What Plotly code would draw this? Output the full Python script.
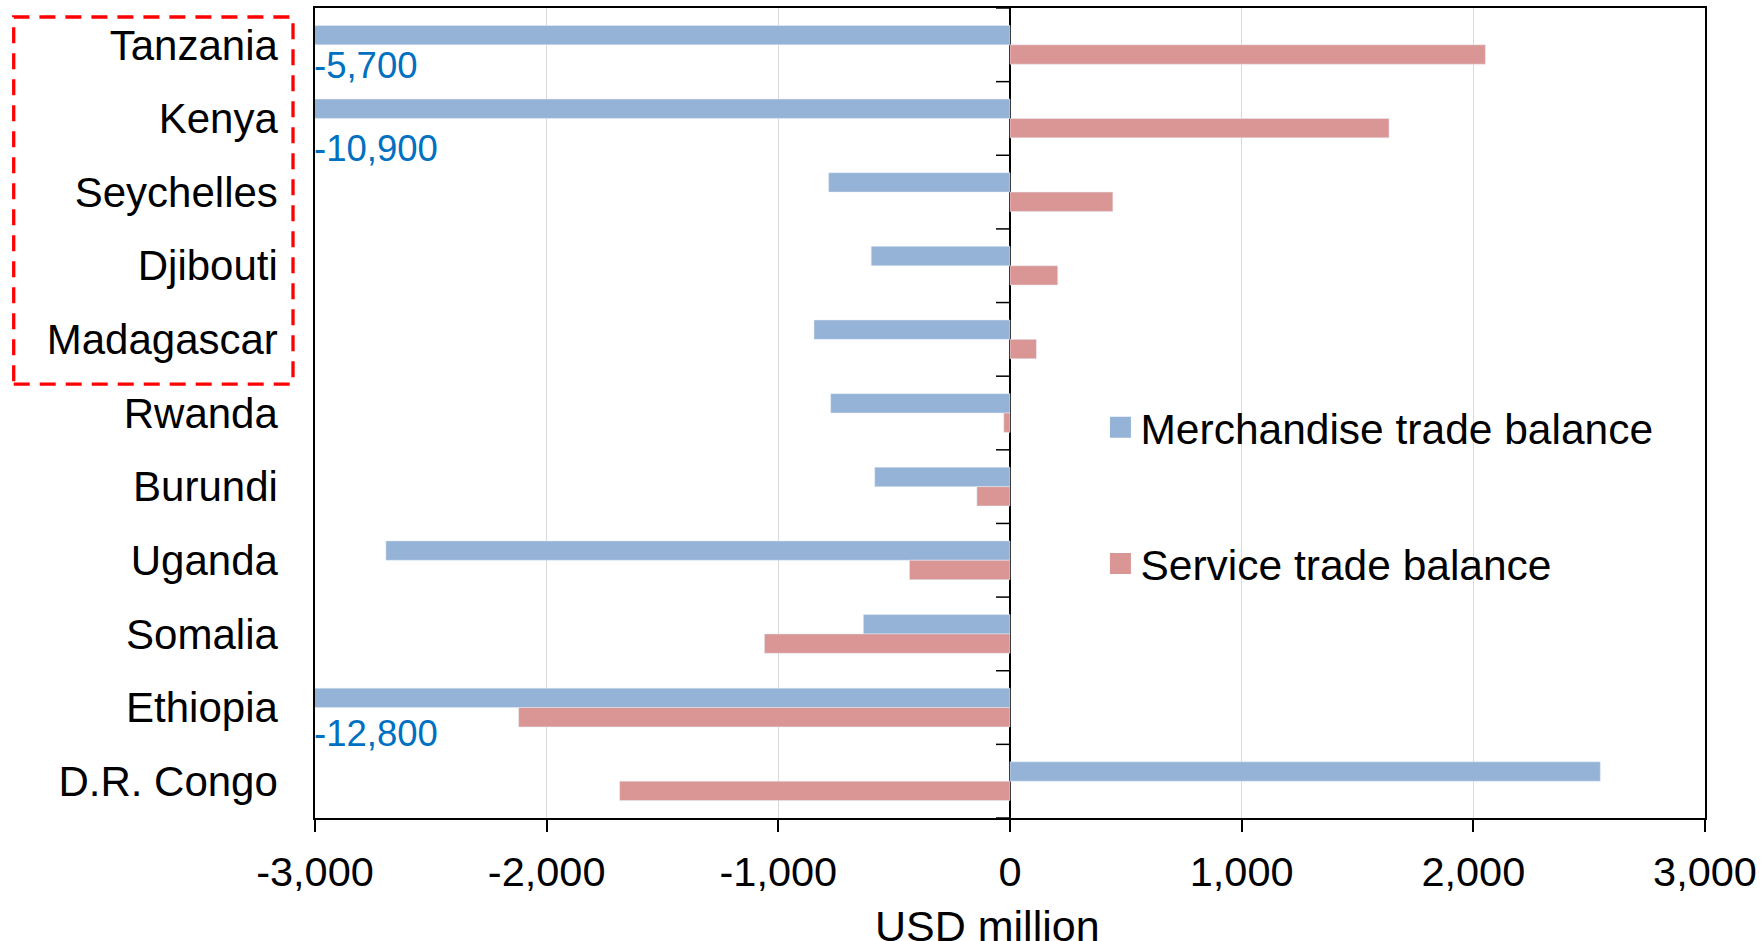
import plotly.graph_objects as go

categories = ["Tanzania", "Kenya", "Seychelles", "Djibouti", "Madagascar", "Rwanda",
              "Burundi", "Uganda", "Somalia", "Ethiopia", "D.R. Congo"]
merchandise = [-5700, -10900, -783, -599, -846, -774, -584, -2694, -633, -12800, 2548]
service = [2052, 1636, 444, 206, 114, -27, -143, -434, -1060, -2121, -1685]
series_names = ["Merchandise trade balance", "Service trade balance"]
tick_vals = [-3000, -2000, -1000, 0, 1000, 2000, 3000]
tick_text = ["-3,000", "-2,000", "-1,000", "0", "1,000", "2,000", "3,000"]
x_title = "USD million"
# clipped merchandise bars labelled with their real value
clipped_labels = {"Tanzania": "-5,700", "Kenya": "-10,900", "Ethiopia": "-12,800"}

BLUE = "#95B3D7"
RED = "#DA9694"
FONT = "Arial, 'Liberation Sans', sans-serif"

fig = go.Figure()
fig.add_trace(go.Bar(y=categories, x=merchandise, orientation="h", name=series_names[0],
                     marker=dict(color=BLUE), showlegend=False))
fig.add_trace(go.Bar(y=categories, x=service, orientation="h", name=series_names[1],
                     marker=dict(color=RED), showlegend=False))
# legend proxies (larger square symbols)
for i, (nm, col) in enumerate(zip(series_names, [BLUE, RED])):
    fig.add_trace(go.Scatter(x=[None], y=[None], mode="markers", name=nm,
                             legendgroup=f"g{i}",
                             marker=dict(symbol="square", size=16, color=col,
                                         line=dict(color=col, width=5))))

shifts = {"Tanzania": -21, "Kenya": -30, "Ethiopia": -26}
for cat, txt in clipped_labels.items():
    fig.add_annotation(x=tick_vals[0], y=cat, xref="x", yref="y", text=txt,
                       showarrow=False, xanchor="left", yanchor="middle",
                       xshift=-3, yshift=shifts[cat],
                       font=dict(family=FONT, size=36.5, color="#0070C0"))

fig.add_annotation(x=(988 - 315) / 1391, y=-0.133, xref="paper", yref="paper",
                   text=x_title, showarrow=False, xanchor="center", yanchor="middle",
                   font=dict(family=FONT, size=43, color="black"))

shapes = []
for i in range(len(categories) + 1):
    shapes.append(dict(type="line", xref="x", yref="y", xsizemode="pixel", xanchor=0,
                       x0=-14, x1=0, y0=i - 0.5, y1=i - 0.5,
                       line=dict(color="black", width=1.5)))
shapes.append(dict(type="rect", xref="paper", yref="paper",
                   x0=(13.5 - 315) / 1391, x1=(293 - 315) / 1391,
                   y0=(818 - 383) / 812, y1=(818 - 15) / 812,
                   line=dict(color="#FF0000", width=3.3, dash="16px,10px")))

fig.update_layout(
    width=1763, height=941,
    margin=dict(l=315, r=57, t=6, b=123),
    paper_bgcolor="white", plot_bgcolor="white",
    barmode="group", bargap=0.474, bargroupgap=0,
    font=dict(family=FONT, size=42, color="black"),
    shapes=shapes,
    legend=dict(x=(1101 - 315) / 1391, y=(818 - 392) / 812, xanchor="left", yanchor="top",
                traceorder="grouped", tracegroupgap=78,
                font=dict(family=FONT, size=42.5, color="black"),
                bgcolor="rgba(0,0,0,0)"),
)
fig.update_xaxes(range=[-3000, 3000], tickvals=tick_vals, ticktext=tick_text,
                 showgrid=True, gridcolor="#D9D9D9", gridwidth=1,
                 zeroline=True, zerolinecolor="black", zerolinewidth=1.5,
                 showline=True, linecolor="black", linewidth=2, mirror=True,
                 ticks="outside", ticklen=12, tickcolor="black", tickwidth=1.5,
                 ticklabelstandoff=4,
                 tickfont=dict(family=FONT, size=41.5, color="black"))
fig.update_yaxes(range=[len(categories) - 0.5, -0.5], autorange=False, showgrid=False,
                 showline=True, linecolor="black", linewidth=1.5, mirror=True,
                 ticks="", ticklabelstandoff=27,
                 tickfont=dict(family=FONT, size=42, color="black"))

fig.write_html("out.html", post_script="document.body.style.margin='0';",
               config={"displayModeBar": False})
